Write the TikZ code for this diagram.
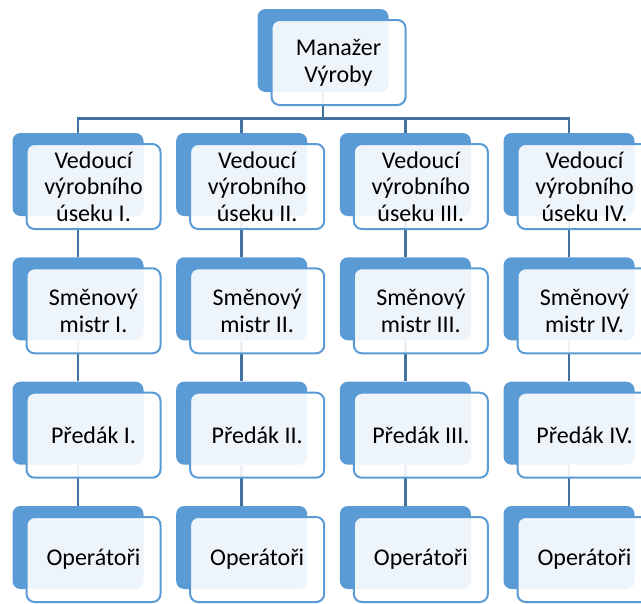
\documentclass[tikz,border=0pt]{standalone}
\usepackage{fontspec}
\setmainfont{Carlito}
\usetikzlibrary{positioning,backgrounds}
\definecolor{boxblue}{RGB}{91,155,213}
\definecolor{linkblue}{RGB}{65,113,156}
\tikzset{
  backbox/.style = {rectangle, rounded corners=6pt, fill=boxblue,
    minimum width=98.25pt, minimum height=62.25pt, inner sep=0pt},
  frontbox/.style = {rectangle, rounded corners=6pt, draw=boxblue, line width=1.5pt,
    fill=white, fill opacity=0.9, text opacity=1, text=black,
    minimum width=100.5pt, minimum height=63.75pt, inner sep=0pt, align=center,
    font=\fontsize{18}{20}\selectfont},
  link/.style = {draw=linkblue, line width=2pt}
}

\begin{document}
\begin{tikzpicture}[x=0.75pt, y=-0.75pt]
      \useasboundingbox (0,0) rectangle (641,603);
      \clip (0,0) rectangle (641,603);
      % manager on top
      \node[backbox] (mgr-b) at (323,50.5) {};
      \node[frontbox] (mgr) at ([shift={(15.5,12)}]mgr-b.center) {Manažer\\Výroby};
      % one column per section
      \foreach \c/\num in {1/I.,2/II.,3/III.,4/IV.} {
        \pgfmathsetmacro{\cx}{78+163.67*(\c-1)}
        \node[backbox] (b\c-1) at (\cx,174.5) {};
        \node[frontbox] (f\c-1) at ([shift={(15.5,12)}]b\c-1.center) {Vedoucí\\výrobního\\úseku \num};
        \node[backbox] (b\c-2) at (\cx,298.8) {};
        \node[frontbox] (f\c-2) at ([shift={(15.5,12)}]b\c-2.center) {Směnový\\mistr \num};
        \node[backbox] (b\c-3) at (\cx,423.2) {};
        \node[frontbox] (f\c-3) at ([shift={(15.5,12)}]b\c-3.center) {Předák \num};
        \node[backbox] (b\c-4) at (\cx,547.5) {};
        \node[frontbox] (f\c-4) at ([shift={(15.5,12)}]b\c-4.center) {Operátoři};
      }
      % connectors behind the boxes
      \begin{scope}[on background layer]
        \foreach \c in {1,...,4} {
          \draw[link] (mgr-b.south) -- ++(0,26) -| (b\c-1.north);
          \draw[link] (b\c-1.south) -- (b\c-2.north);
          \draw[link] (b\c-2.south) -- (b\c-3.north);
          \draw[link] (b\c-3.south) -- (b\c-4.north);
        }
      \end{scope}
\end{tikzpicture}
\end{document}
